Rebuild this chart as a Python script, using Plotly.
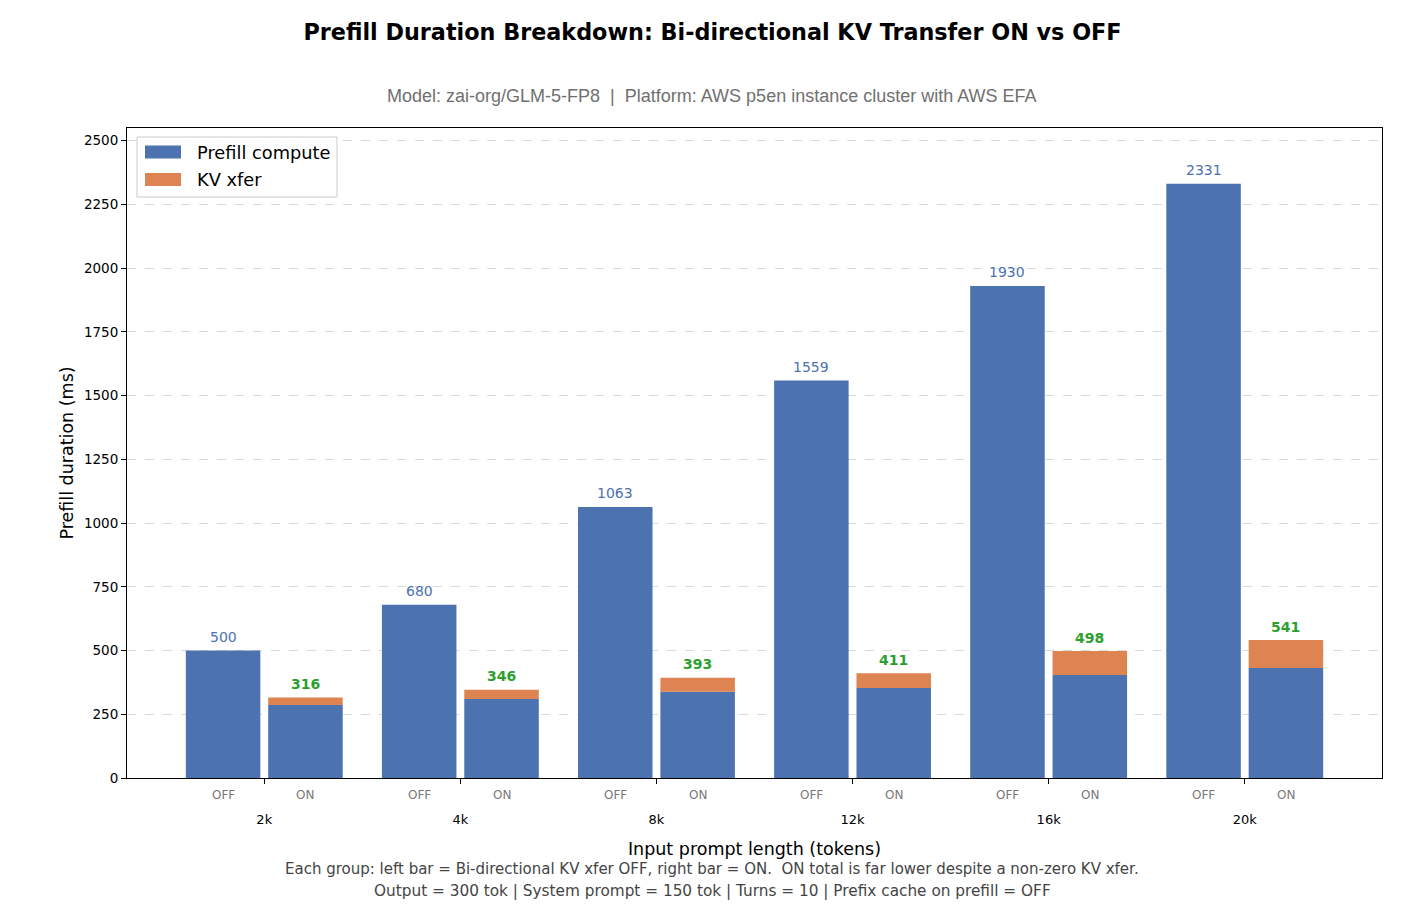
import plotly.graph_objects as go

groups = ["2k", "4k", "8k", "12k", "16k", "20k"]
off_compute = [500, 680, 1063, 1559, 1930, 2331]
on_compute = [286, 310, 338, 353, 404, 432]
on_xfer = [30, 36, 55, 58, 94, 109]
on_total = [316, 346, 393, 411, 498, 541]

BLUE = "#4C72B0"
ORANGE = "#DD8452"
GREEN = "#2ca02c"
FONT = "DejaVu Sans"

# plot area in pixels
L, R, T, B = 127, 1382, 128, 778
PW, PH = R - L, B - T


def px(x):
    return (x - L) / PW


def py(y):
    return (B - y) / PH


off_x = [i - 0.21 for i in range(len(groups))]
on_x = [i + 0.21 for i in range(len(groups))]

fig = go.Figure()
fig.add_trace(go.Bar(
    x=off_x + on_x, y=off_compute + on_compute, width=0.38,
    marker=dict(color=BLUE, line=dict(width=0)), name="Prefill compute",
    hoverinfo="y", showlegend=False))
fig.add_trace(go.Bar(
    x=on_x, y=on_xfer, base=on_compute, width=0.38,
    marker=dict(color=ORANGE, line=dict(width=0)), name="KV xfer",
    hoverinfo="y", showlegend=False))

annotations = []
for i, g in enumerate(groups):
    annotations.append(dict(x=off_x[i], y=off_compute[i], yshift=14, text=str(off_compute[i]),
                            showarrow=False, font=dict(family=FONT, size=14, color=BLUE)))
    annotations.append(dict(x=on_x[i], y=on_total[i], yshift=13.5, text="<b>%d</b>" % on_total[i],
                            showarrow=False, font=dict(family=FONT, size=14, color=GREEN)))
    annotations.append(dict(x=off_x[i], y=0, yref="y", yshift=-17, text="OFF", showarrow=False,
                            font=dict(family=FONT, size=12, color="#777777")))
    annotations.append(dict(x=on_x[i], y=0, yref="y", yshift=-17, text="ON", showarrow=False,
                            font=dict(family=FONT, size=12, color="#777777")))

annotations.append(dict(x=px(712), xref="paper", y=1.0, yref="paper", yshift=128 - 96,
                        yanchor="middle",
                        text="Model: zai-org/GLM-5-FP8  |  Platform: AWS p5en instance cluster with AWS EFA",
                        showarrow=False, font=dict(family="Liberation Sans", size=18, color="#707070")))
annotations.append(dict(x=px(712), xref="paper", y=0, yref="paper", yshift=-(869 - 778),
                        yanchor="middle",
                        text="Each group: left bar = Bi-directional KV xfer OFF, right bar = ON.  ON total is far lower despite a non-zero KV xfer.",
                        showarrow=False, font=dict(family=FONT, size=15, color="#444444")))
annotations.append(dict(x=px(712), xref="paper", y=0, yref="paper", yshift=-(891 - 778),
                        yanchor="middle",
                        text="Output = 300 tok | System prompt = 150 tok | Turns = 10 | Prefix cache on prefill = OFF",
                        showarrow=False, font=dict(family=FONT, size=15.3, color="#444444")))

# legend (drawn manually to match rectangular swatches)
shapes = [
    dict(type="rect", xref="paper", yref="paper", x0=px(137), x1=px(337), y0=py(197), y1=py(137),
         line=dict(color="#cccccc", width=1), fillcolor="rgba(255,255,255,0.85)", layer="above"),
    dict(type="rect", xref="paper", yref="paper", x0=px(145), x1=px(181), y0=py(158.5), y1=py(145.5),
         line=dict(width=0), fillcolor=BLUE, layer="above"),
    dict(type="rect", xref="paper", yref="paper", x0=px(145), x1=px(181), y0=py(186), y1=py(173),
         line=dict(width=0), fillcolor=ORANGE, layer="above"),
]
annotations.append(dict(x=px(195), y=py(152), xref="paper", yref="paper", xanchor="left", yanchor="middle",
                        text="Prefill compute", showarrow=False,
                        font=dict(family=FONT, size=17.8, color="black")))
annotations.append(dict(x=px(195), y=py(180), xref="paper", yref="paper", xanchor="left", yanchor="middle",
                        text="KV xfer", showarrow=False,
                        font=dict(family=FONT, size=17.8, color="black")))

fig.update_layout(
    width=1425, height=915,
    margin=dict(l=L, r=1425 - R, t=T, b=915 - B),
    paper_bgcolor="white", plot_bgcolor="white",
    barmode="overlay",
    showlegend=False,
    title=dict(text="<b>Prefill Duration Breakdown: Bi-directional KV Transfer ON vs OFF</b>",
               x=0.5, xanchor="center", y=1 - 32 / 915, yanchor="middle",
               font=dict(family=FONT, size=22.3, color="black")),
    annotations=annotations,
    shapes=shapes,
    font=dict(family=FONT),
)
fig.update_xaxes(
    range=[-0.7, 5.7], tickvals=list(range(len(groups))), ticktext=groups,
    ticks="outside", ticklen=5, tickcolor="black",
    tickfont=dict(family=FONT, size=13, color="black"),
    ticklabelstandoff=24,
    showline=True, linecolor="black", linewidth=1, mirror=True,
    showgrid=False, zeroline=False,
    title=dict(text="Input prompt length (tokens)", font=dict(family=FONT, size=17.5, color="black"),
               standoff=17),
)
fig.update_yaxes(
    range=[0, 2550], tickvals=[0, 250, 500, 750, 1000, 1250, 1500, 1750, 2000, 2250, 2500],
    ticks="outside", ticklen=5, tickcolor="black",
    tickfont=dict(family=FONT, size=13.5, color="black"),
    showline=True, linecolor="black", linewidth=1, mirror=True,
    showgrid=True, gridcolor="#d9d9d9", griddash="dash", gridwidth=1, zeroline=False,
    title=dict(text="Prefill duration (ms)", font=dict(family=FONT, size=17.5, color="black"),
               standoff=5),
)

fig.write_html("out.html")
